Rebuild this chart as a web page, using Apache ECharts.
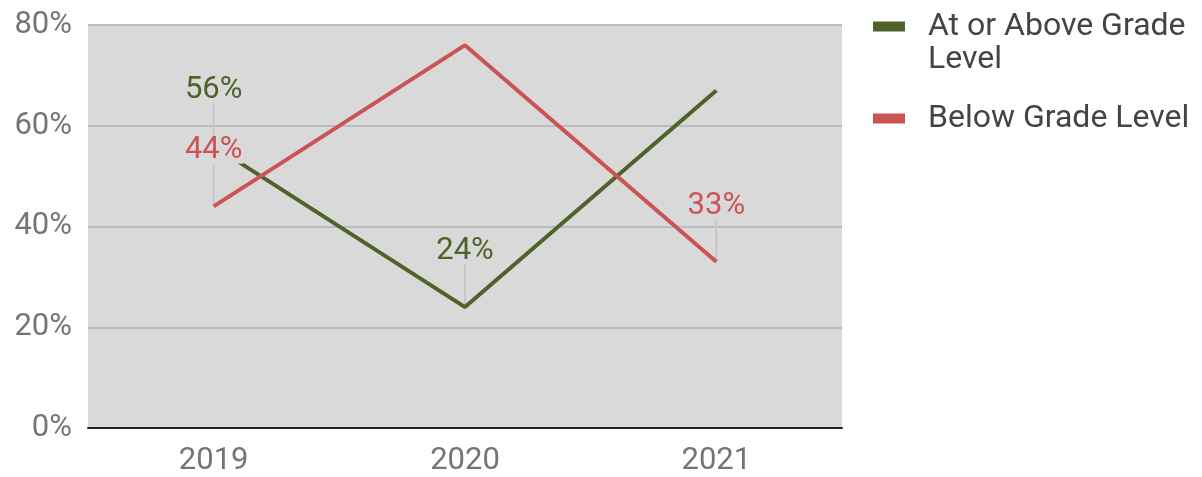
<!DOCTYPE html>
<html>
<head>
<meta charset="utf-8">
<style>
  html, body { margin: 0; padding: 0; background: #ffffff; }
  #chart { width: 1202px; height: 477px; }
</style>
<script src="https://cdn.jsdelivr.net/npm/echarts@6/dist/echarts.min.js"></script>
</head>
<body>
<div id="chart"></div>
<script>
// Share of students by reading level, per school year
const years = ['2019', '2020', '2021'];
const atOrAbove = [56, 24, 67];
const below = [44, 76, 33];
// Which points carry a value callout
const atOrAboveLabeled = [true, true, false];
const belowLabeled = [true, false, true];
const yTicks = { min: 0, max: 80, interval: 20 };

const GREEN = '#4f6228';
const RED = '#cc5353';
const PLOT_BG = '#d9d9d9';
const FONT = 'Roboto, "Noto Sans", sans-serif';

// Legend swatches: a 32x10 bar inside a 32x43 box. The first one sits at the
// top so it lines up with the first line of a two-line name.
const SWATCH_TOP = 'path://M0,43M0,0h32v10h-32z';
const SWATCH_MID = 'path://M0,0M0,43M0,16.5h32v10h-32z';

function pointsWithCallouts(values, flags, color) {
  return values.map((v, i) => ({
    value: v,
    label: {
      show: flags[i],
      color: color
    }
  }));
}

// Leader lines from each labelled point up towards its callout
const leaderData = [];
atOrAbove.forEach((v, i) => { if (atOrAboveLabeled[i]) leaderData.push([i, v]); });
below.forEach((v, i) => { if (belowLabeled[i]) leaderData.push([i, v]); });

const calloutLabel = {
  position: 'inside',
  offset: [0, -56],
  fontSize: 31,
  lineHeight: 27,
  fontFamily: FONT,
  formatter: '{c}%',
  backgroundColor: PLOT_BG,
  padding: [0, 1]
};

const chart = echarts.init(document.getElementById('chart'), null, { renderer: 'canvas' });

chart.setOption({
  animation: false,
  textStyle: { fontFamily: FONT },
  grid: {
    left: 88, right: 360, top: 25, bottom: 48,
    show: true,
    backgroundColor: PLOT_BG,
    borderWidth: 0
  },
  legend: {
    orient: 'vertical',
    left: 873,
    top: 10,
    padding: 0,
    itemWidth: 32,
    itemHeight: 43,
    itemGap: 21,
    textStyle: {
      fontFamily: FONT,
      fontSize: 32,
      lineHeight: 33,
      color: '#444444',
      padding: [0, 0, 0, 18]
    },
    formatter: name => name === 'At or Above Grade Level' ? 'At or Above Grade\nLevel' : name,
    data: [
      {
        name: 'At or Above Grade Level',
        icon: SWATCH_TOP,
        itemStyle: { color: GREEN, opacity: 1, borderWidth: 0 }
      },
      {
        name: 'Below Grade Level',
        icon: SWATCH_MID,
        itemStyle: { color: RED, opacity: 1, borderWidth: 0 }
      }
    ]
  },
  xAxis: {
    type: 'category',
    data: years,
    boundaryGap: true,
    axisLine: { show: true, lineStyle: { color: '#222222', width: 2 } },
    axisTick: { show: false },
    axisLabel: { color: '#757575', fontSize: 31, fontFamily: FONT, margin: 18 },
    splitLine: { show: false }
  },
  yAxis: {
    type: 'value',
    min: yTicks.min,
    max: yTicks.max,
    interval: yTicks.interval,
    axisLine: { show: false },
    axisTick: { show: false },
    axisLabel: { color: '#757575', fontSize: 31, fontFamily: FONT, margin: 16, formatter: '{value}%' },
    splitLine: { show: true, lineStyle: { color: '#bcbcbc', width: 2 } }
  },
  series: [
    {
      type: 'custom',
      name: 'leaders',
      z: 1,
      silent: true,
      data: leaderData,
      renderItem: (params, api) => {
        const p = api.coord([api.value(0), api.value(1)]);
        return {
          type: 'line',
          shape: { x1: p[0], y1: p[1], x2: p[0], y2: p[1] - 43 },
          style: { stroke: '#c6c6c6', lineWidth: 2 }
        };
      }
    },
    {
      type: 'line',
      name: 'At or Above Grade Level',
      z: 2,
      color: GREEN,
      data: pointsWithCallouts(atOrAbove, atOrAboveLabeled, GREEN),
      showSymbol: true,
      symbol: 'circle',
      symbolSize: 1,
      itemStyle: { color: 'rgba(0,0,0,0)' },
      lineStyle: { color: GREEN, width: 4 },
      label: calloutLabel,
      emphasis: { disabled: true }
    },
    {
      type: 'line',
      name: 'Below Grade Level',
      z: 3,
      color: RED,
      data: pointsWithCallouts(below, belowLabeled, RED),
      showSymbol: true,
      symbol: 'circle',
      symbolSize: 1,
      itemStyle: { color: 'rgba(0,0,0,0)' },
      lineStyle: { color: RED, width: 4 },
      label: calloutLabel,
      emphasis: { disabled: true }
    }
  ]
});
</script>
</body>
</html>
